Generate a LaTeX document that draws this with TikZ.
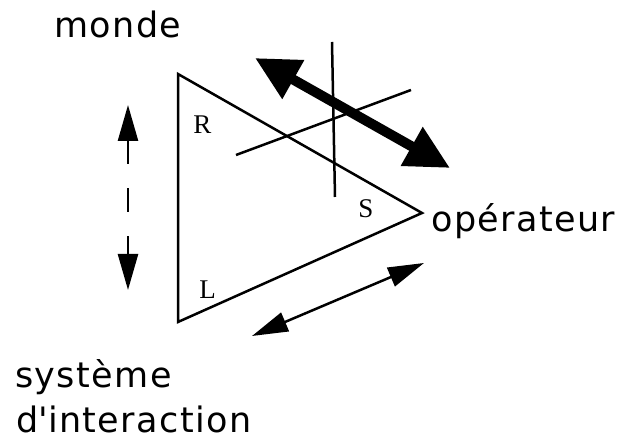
\documentclass[tikz,border=0pt]{standalone}
\usepackage{fontspec}
\setmainfont{DejaVu Sans}[LetterSpace=4]
\newfontfamily\lettrefont{Liberation Serif}
\usetikzlibrary{arrows.meta, positioning}

\begin{document}
\begin{tikzpicture}[
  x=0.5pt, y=-0.5pt,
  line width=1.25pt,
  libelle/.style={inner sep=0pt, anchor=base west, font=\fontsize{17.5}{21}\selectfont},
  sommet/.style={inner sep=0pt, anchor=base west, font=\lettrefont\fontsize{13.5}{16}\selectfont},
  fleche/.style={{Triangle[length=18pt, width=10pt]}-{Triangle[length=18pt, width=10pt]}},
  grosse fleche/.style={line width=5pt, {Triangle[length=22pt, width=21pt]}-{Triangle[length=22pt, width=21pt]}}
]
\useasboundingbox (0,0) rectangle (622,442);

% le triangle
\coordinate (haut) at (178,74);
\coordinate (bas) at (178,322);
\coordinate (droite) at (422,213);
\draw (haut) -- (droite) -- (bas) -- cycle;

\node[sommet] (R) at (192,134) {R};
\node[sommet] (L) at (198,299) {L};
\node[sommet] (S) at (357,218) {S};

% les poles
\node[libelle] (monde) at (53,38) {monde};
\node[libelle] (operateur) at (430,232) {opérateur};
\node[libelle] (systeme) at (14,388) {système};
\node[libelle] (interaction) at (15,433) {d\textquotesingle interaction};

% croisement
\coordinate (c1) at (332,42);
\coordinate (c2) at (335,197);
\coordinate (c3) at (236,155);
\coordinate (c4) at (411,90);
\draw (c1) -- (c2);
\draw (c3) -- (c4);

% fleches
\coordinate (g1) at (255,58);
\coordinate (g2) at (450,168);
\draw[grosse fleche] (g1) -- (g2);

\coordinate (v1) at (128,105);
\coordinate (v2) at (128,290);
\draw[fleche, dash pattern=on 12pt off 12pt] (v1) -- (v2);

\coordinate (b1) at (252,336);
\coordinate (b2) at (424,263);
\draw[fleche] (b1) -- (b2);
\end{tikzpicture}
\end{document}
